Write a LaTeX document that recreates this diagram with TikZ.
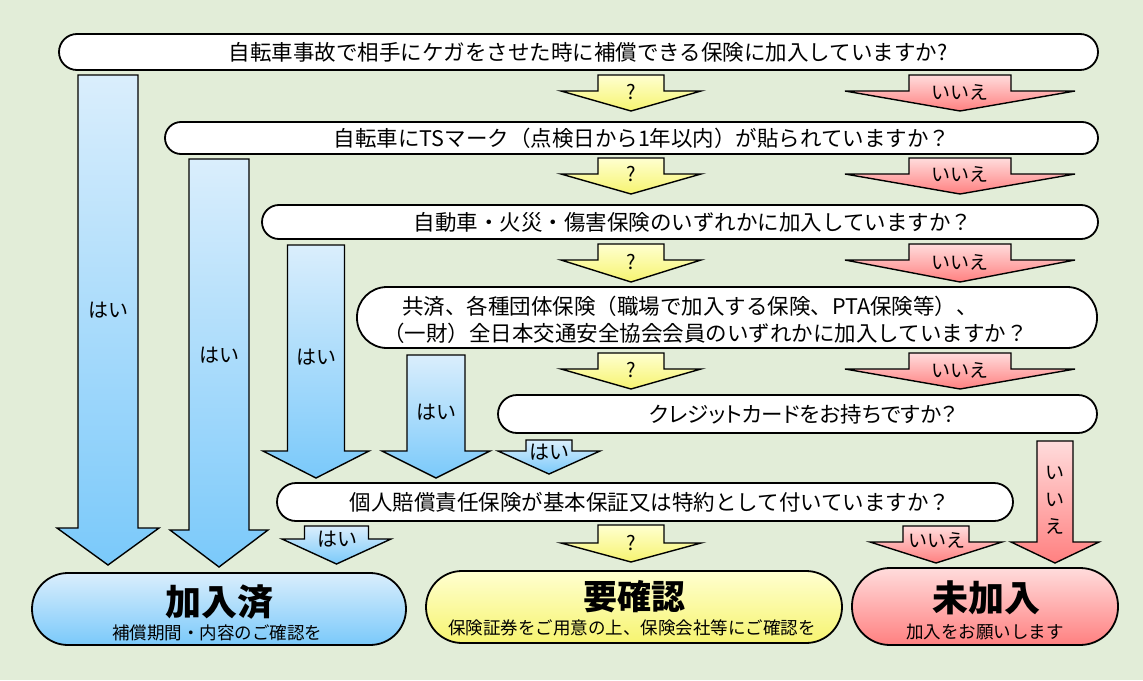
\documentclass[tikz,border=0pt]{standalone}
\usepackage{fontspec}
\setmainfont{Noto Sans CJK JP}
\newfontfamily\paltfont{Noto Sans CJK JP}[RawFeature=+palt]
\definecolor{bg}{RGB}{226,237,216}
\definecolor{bluetop}{RGB}{218,238,252}
\definecolor{bluebot}{RGB}{122,201,250}
\definecolor{yeltop}{RGB}{255,255,208}
\definecolor{yelbot}{RGB}{246,244,112}
\definecolor{redtop}{RGB}{255,220,220}
\definecolor{redbot}{RGB}{255,128,128}
\newcommand{\blockarrow}[7]{%
  \path[#1] ({#2-#3},#5) -- ({#2+#3},#5) -- ({#2+#3},#6) -- ({#2+#4},#6)
    -- (#2,#7) -- ({#2-#4},#6) -- ({#2-#3},#6) -- cycle;}
\tikzset{
  qbox/.style={draw, fill=white, line width=1.8pt, inner sep=0pt},
  qtext/.style={font=\fontsize{21.5}{26}\selectfont, inner sep=0pt},
  rbox/.style={draw, line width=1.8pt, inner sep=0pt},
  bigtext/.style={font=\fontsize{36}{40}\selectfont\bfseries, inner sep=0pt},
  subtext/.style={font=\fontsize{17.5}{20}\selectfont, inner sep=0pt},
  bluearrow/.style={draw, line width=1.4pt, top color=bluetop, bottom color=bluebot},
  yelarrow/.style={draw, line width=1.4pt, top color=yeltop, bottom color=yelbot},
  redarrow/.style={draw, line width=1.4pt, top color=redtop, bottom color=redbot},
  lbl/.style={font=\fontsize{20}{24}\selectfont, inner sep=0pt},
  qlbl/.style={font=\fontsize{20}{24}\selectfont, inner sep=0pt},
  nlbl/.style={font=\fontsize{19}{23}\selectfont, inner sep=0pt}
}
\begin{document}
\begin{tikzpicture}[x=1pt,y=-1pt]
\useasboundingbox (0,0) rectangle (1143,680);
\fill[bg] (0,0) rectangle (1143,680);

% question boxes
\node[qbox, minimum width=1039pt, minimum height=36pt, rounded corners=18pt] (q1) at (578.5,52) {};
\node[qbox, minimum width=933pt, minimum height=32pt, rounded corners=16pt] (q2) at (631.5,138) {};
\node[qbox, minimum width=836pt, minimum height=34pt, rounded corners=17pt] (q3) at (680,222) {};
\node[qbox, minimum width=740pt, minimum height=61pt, rounded corners=30pt] (q4) at (727,317.5) {};
\node[qbox, minimum width=599pt, minimum height=38pt, rounded corners=19pt] (q5) at (797.5,414) {};
\node[qbox, minimum width=736pt, minimum height=38pt, rounded corners=19pt] (q6) at (645,502) {};

\node[qtext] (t1) at (588,52) {自転車事故で相手にケガをさせた時に補償できる保険に加入していますか?};
\node[qtext] (t2) at (642,138) {自転車にTSマーク（点検日から1年以内）が貼られていますか？};
\node[qtext] (t3) at (693,222) {自動車・火災・傷害保険のいずれかに加入していますか？};
\node[qtext, anchor=west] (t4a) at (402,306) {共済、各種団体保険（職場で加入する保険、PTA保険等）、};
\node[qtext, anchor=west] (t4b) at (383,333) {（一財）全日本交通安全協会会員のいずれかに加入していますか？};
\node[qtext, font=\fontsize{21.5}{26}\paltfont] (t5) at (803,414) {クレジットカードをお持ちですか？};
\node[qtext] (t6) at (650,502) {個人賠償責任保険が基本保証又は特約として付いていますか？};

% result boxes
\node[rbox, top color=bluetop, bottom color=bluebot, minimum width=374pt, minimum height=72pt, rounded corners=36pt] (r1) at (219,609) {};
\node[rbox, top color=yeltop, bottom color=yelbot, minimum width=416pt, minimum height=72pt, rounded corners=36pt] (r2) at (634,607) {};
\node[rbox, top color=redtop, bottom color=redbot, minimum width=266pt, minimum height=77pt, rounded corners=38pt] (r3) at (985,606.5) {};

\node[bigtext] (r1t) at (219,602) {加入済};
\node[subtext] (r1s) at (217,633) {補償期間・内容のご確認を};
\node[bigtext, font=\fontsize{34}{38}\selectfont\bfseries] (r2t) at (634,597) {要確認};
\node[subtext] (r2s) at (632,628) {保険証券をご用意の上、保険会社等にご確認を};
\node[bigtext] (r3t) at (986,598) {未加入};
\node[subtext] (r3s) at (985,632) {加入をお願いします};

% yellow ? arrows
\blockarrow{yelarrow}{631}{33}{70}{75}{91}{111}
\blockarrow{yelarrow}{631}{33}{70}{158}{174}{194}
\blockarrow{yelarrow}{631}{33}{70}{244}{260}{282}
\blockarrow{yelarrow}{631}{33}{70}{353}{369}{389}
\blockarrow{yelarrow}{631}{33}{70}{525}{543}{562}
\node[qlbl] (y1) at (631,92) {?};
\node[qlbl] (y2) at (631,174) {?};
\node[qlbl] (y3) at (631,262) {?};
\node[qlbl] (y4) at (631,370) {?};
\node[qlbl] (y5) at (631,543) {?};

% red arrows
\blockarrow{redarrow}{960}{51}{115}{75}{91}{111}
\blockarrow{redarrow}{960}{51}{115}{158}{174}{194}
\blockarrow{redarrow}{960}{51}{115}{244}{260}{282}
\blockarrow{redarrow}{960}{51}{115}{353}{369}{389}
\blockarrow{redarrow}{936}{33}{66}{526}{542}{563}
\blockarrow{redarrow}{1055}{18}{44}{441}{542}{563}
\node[nlbl] (n1) at (960,92) {いいえ};
\node[nlbl] (n2) at (960,174) {いいえ};
\node[nlbl] (n3) at (960,262) {いいえ};
\node[nlbl] (n4) at (960,370) {いいえ};
\node[nlbl] (n5) at (937,540) {いいえ};
\node[nlbl, font=\fontsize{19}{27}\selectfont, align=center] (n6) at (1055,500) {い\\い\\え};

% blue arrows
\blockarrow{bluearrow}{108}{30}{51}{75}{528}{565}
\blockarrow{bluearrow}{219}{30}{49}{159}{530}{567}
\blockarrow{bluearrow}{316}{28.5}{53}{245}{451}{478}
\blockarrow{bluearrow}{436}{29}{54}{355}{451}{478}
\blockarrow{bluearrow}{549}{23}{51}{440}{451}{474}
\blockarrow{bluearrow}{336.5}{32}{54.5}{526}{539}{564}
\node[lbl] (b1) at (108,310) {はい};
\node[lbl] (b2) at (219,355) {はい};
\node[lbl] (b3) at (316,357) {はい};
\node[lbl] (b4) at (436,412) {はい};
\node[lbl] (b5) at (549,452) {はい};
\node[lbl] (b6) at (337,539) {はい};
\end{tikzpicture}
\end{document}
